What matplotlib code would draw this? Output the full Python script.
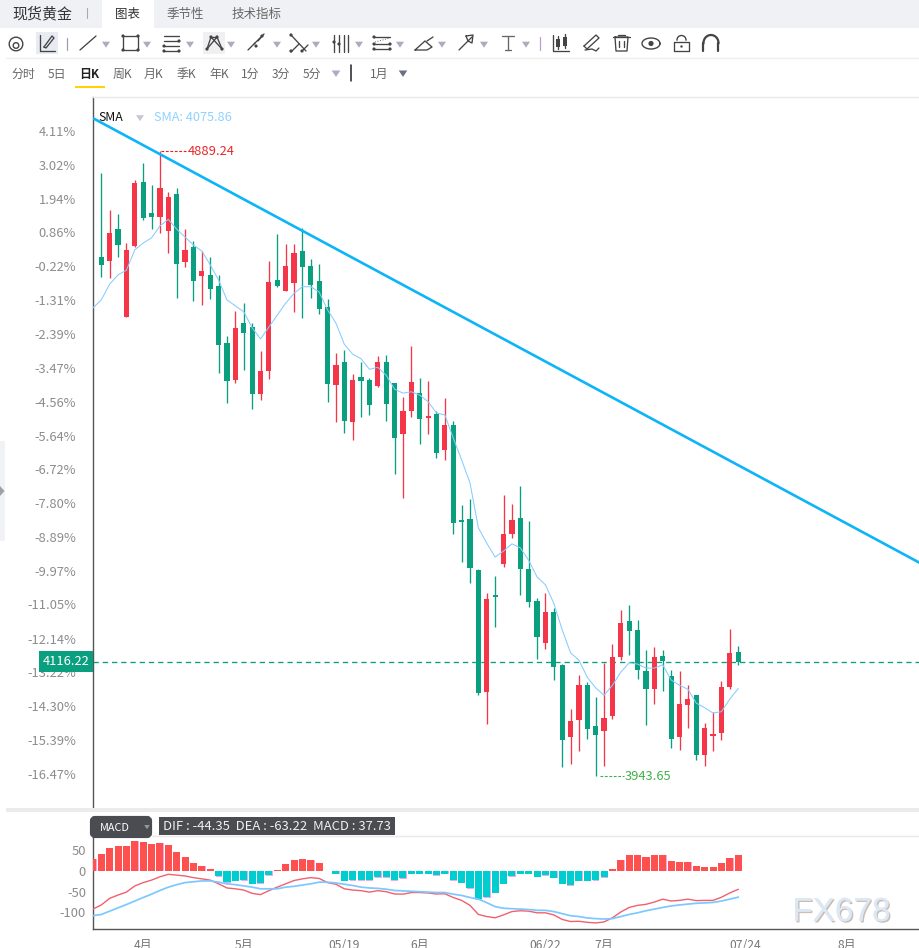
import matplotlib
matplotlib.use("Agg")
import matplotlib.pyplot as plt
import matplotlib.patheffects as pe
from matplotlib.patches import Rectangle, FancyBboxPatch, Polygon, Circle
import numpy as np

plt.rcParams['font.family'] = ['Noto Sans CJK SC', 'DejaVu Sans']

W, H = 920, 948
# ---------- data (index 1..77 = candles; bars / lines also have one earlier point) ----------
opens = [4729,4723,4771,4638,4746,4842,4796,4790,4768,4824,4721,4744,4700,4702,4685,4599,4543,4629,4623,4522,
         4557,4694,4678,4690,4738,4715,4693,4653,4535,4570,4479,4547,4543,4534,4570,4538,4461,4496,4523,4485,
         4491,4437,4475,4331,4333,4255,4071,4218,4265,4310,4334,4257,4209,4145,4192,4112,4003,4028,4081,4019,
         4012,4035,4124,4178,4165,4103,4075,4125,4095,4003,4051,4066,3976,4004,4009,4078,4131]
highs = [4856,4800,4794,4750,4846,4871,4838,4889.24,4827,4833,4771,4753,4738,4729,4702,4609,4647,4659,4629,4587,
         4723,4764,4749,4749,4773,4726,4718,4665,4584,4588,4552,4570,4546,4579,4581,4538,4517,4594,4546,4541,
         4496,4516,4481,4354,4363,4257,4221,4246,4369,4355,4383,4330,4213,4221,4198,4113,4045,4097,4086,4063,
         4115,4143,4195,4202,4180,4134,4139,4134,4104,4103,4081,4066,4024,4041,4087,4166,4140]
lows = [4699,4697,4729,4638,4744,4785,4771,4765,4735,4667,4714,4662,4656,4665,4554,4508,4538,4558,4499,4513,
        4544,4684,4678,4646,4637,4667,4643,4510,4479,4463,4452,4487,4490,4532,4481,4401,4364,4487,4446,4461,
        4425,4422,4310,4268,4236,4066,4022,4169,4260,4304,4218,4199,4121,4136,4089,3957,3962,3982,4000,3943.65,
        3959,4030,4119,4127,4091,4021,4053,4072,3986,3983,4016,3968,3959,3982,3998,4075,4112]
closes = [4717,4765,4747,4740,4841,4788,4790,4833,4820,4718,4740,4693,4708,4681,4596,4541,4622,4614,4522,4557,
          4691,4685,4715,4735,4714,4687,4650,4537,4566,4481,4543,4541,4505,4570,4507,4455,4496,4540,4484,4488,
          4432,4475,4327,4328,4258,4069,4212,4215,4310,4331,4257,4207,4154,4192,4109,3998,4027,4081,4015,4006,
          4031,4124,4175,4163,4104,4075,4124,4118,4000,4053,4060,3976,4016,4007,4078,4130,4116.22]
sma = [4652,4664,4688,4702,4709,4740,4750,4758,4776,4786,4771,4759,4747,4738,4717,4694,4664,4655,4646,4622,
       4605,4623,4641,4659,4674,4684,4684,4676,4649,4629,4597,4582,4575,4559,4562,4550,4529,4523,4525,4520,
       4510,4493,4490,4455,4422,4387,4319,4296,4275,4284,4295,4289,4270,4245,4233,4205,4165,4130,4119,4093,
       4077,4066,4081,4101,4115,4113,4107,4107,4112,4089,4081,4075,4054,4047,4039,4041,4060,4075.86]
macd = [29,41,56,60,60,72,70,65,68,63,46,34,19,12,5,-12,-27,-24,-22,-31,-29,-10,2,17,27,29,27,19,0.5,-7,
        -24,-22,-22,-22,-14.5,-14.5,-22,-17,-7,-7,-6.5,-10,-6.5,-22,-28,-41,-68,-63,-53,-31,-12,-6.5,-7,-14,-10,-16,-31,-34,-24,-24,
        -22,-14.5,5,27,39,39,34,39,39,24,22,22,12,10,10,19,31,37.73]
dif = [-92,-82,-66,-58,-51,-36,-28,-22,-14,-8,-10,-12,-16,-19,-22,-31,-41,-43,-46,-54,-57,-47.5,-39,-31,-23,-19,-16,-18,-28,-32,
       -43,-46,-47.5,-51,-47.5,-50,-55.5,-56,-52,-52,-53,-55.5,-55,-64,-71,-83,-105,-110,-113,-106,-98,-96,-97,-101,-101,-106,-117,-122,-121.5,-124,
       -125.5,-123,-113,-99,-88,-83,-80.5,-75,-68,-72.5,-71,-68,-71.5,-71,-71,-63.5,-53,-44.35]
dea = [-108,-105,-97,-89,-81,-72.5,-64,-56,-47,-39,-33,-28,-26,-24,-24,-27,-31,-33,-36,-39,-43,-43,-43,-39,-37,-34,-31,-27,-27,-29,
       -32,-35,-39,-41,-42,-44,-47,-48,-49,-50,-51,-52,-52,-56,-59,-64,-68,-76.5,-86,-90,-91,-92,-93,-95,-95,-98,-103,-108,-110,-113.5,
       -115,-116,-115,-110,-105,-101,-96,-92,-88,-84.5,-82,-80,-78,-77,-76,-72.5,-68,-63.22]
pct_ticks = [4.11,3.02,1.94,0.86,-0.22,-1.31,-2.39,-3.47,-4.56,-5.64,-6.72,-7.80,-8.89,-9.97,-11.05,-12.14,-13.22,-14.30,-15.39,-16.47]
base_price = 4725.4
last_price = 4116.22
trend_idx = [0.01, 98.7]
trend_price = [4939, 4266]
macd_ticks = [50, 0, -50, -100]
date_idx = [6, 18, 30, 39, 54, 61, 77.8, 90]
date_lbl = ['4月', '5月', '05/19', '6月', '06/22', '7月', '07/24', '8月']

GREEN, RED, SMAC = '#0a9f7e', '#f53649', '#86ccff'
TREND = '#0cb4f8'
GREY = '#8c8c8c'
FS = 8.7
FSN = 9.3

fig = plt.figure(figsize=(W/100, H/100), dpi=100, facecolor='white')

def rect(x0, y0, x1, y1):
    return [x0/W, 1-y1/H, (x1-x0)/W, (y1-y0)/H]

# ---------- main chart ----------
ax = fig.add_axes(rect(93, 97, 920, 807))
ax.set_xlim(0.01, 98.7)
ax.set_ylim(5117.8-1.513*807, 5117.8-1.513*97)
ax.patch.set_alpha(0)
idx = np.arange(1, 78)
o, h, l, c = map(np.array, (opens, highs, lows, closes))
cols = [GREEN if cc < oo else RED for oo, cc in zip(o, c)]
ax.vlines(idx, l, h, colors=cols, linewidth=0.95, zorder=3)
ax.bar(idx, np.maximum(np.abs(c-o), 2), bottom=np.minimum(o, c), width=0.62, color=cols, linewidth=0, zorder=3)
ax.plot(np.arange(0, 78), sma, color=SMAC, lw=0.75, zorder=4)
ax.plot(trend_idx, trend_price, color=TREND, lw=1.9, zorder=5, solid_capstyle='butt')
ax.axhline(last_price, color=GREEN, lw=0.95, ls=(0, (4, 3)), zorder=2)
for s in ('top', 'right', 'bottom'):
    ax.spines[s].set_visible(False)
ax.spines['left'].set_color('#555555')
ax.spines['left'].set_linewidth(1)
ax.set_xticks([])
ax.set_yticks([base_price*(1+p/100) for p in pct_ticks])
ax.set_yticklabels([f'{p:.2f}%' for p in pct_ticks], fontsize=FSN, color=GREY)
ax.tick_params(axis='y', length=0, pad=12.3)

# extremes
hi_i, lo_i = int(np.argmax(h)), int(np.argmin(l))
ax.plot([idx[hi_i]+0.1, idx[hi_i]+3.3], [h[hi_i]]*2, color='#f01c1c', lw=0.8, ls=(0, (2.5, 1.5)), zorder=6)
ax.text(idx[hi_i]+3.3, h[hi_i], f'{h[hi_i]:.2f}', color='#e8262a', fontsize=FSN, va='center', ha='left', zorder=6)
ax.plot([idx[lo_i]+0.5, idx[lo_i]+3.4], [l[lo_i]]*2, color='#3fb04a', lw=0.8, ls=(0, (2.5, 1.5)), zorder=6)
ax.text(idx[lo_i]+3.4, l[lo_i], f'{l[lo_i]:.2f}', color='#3fb04a', fontsize=FSN, va='center', ha='left', zorder=6)

# ---------- MACD panel ----------
m = fig.add_axes(rect(93, 836, 920, 929))
m.set_xlim(0.01, 98.7)
m.set_ylim(-(929-871)/0.414, (871-836)/0.414)
m.patch.set_alpha(0)
mx = np.arange(0, 78)
mv = np.array(macd)
# thin pink edge under every bar, as in the reference
m.bar(mx+0.04, np.where(mv > 0, mv, mv-1.3), width=0.82, color='#f6a6e6', linewidth=0, zorder=2)
m.bar(mx, mv, width=0.84, color=['#ff5050' if v > 0 else '#00cdd0' for v in mv], linewidth=0, zorder=3)
m.plot(mx, dif, color='#f2606e', lw=1.0, zorder=4)
m.plot(mx, dea, color='#7cc8ff', lw=1.25, zorder=4)
m.spines['top'].set_visible(False)
m.spines['right'].set_visible(False)
for s in ('left', 'bottom'):
    m.spines[s].set_color('#555555')
    m.spines[s].set_linewidth(1)
m.set_yticks(macd_ticks)
m.set_yticklabels([str(t) for t in macd_ticks], fontsize=FSN+0.1, color=GREY)
m.tick_params(axis='y', length=0, pad=5)
m.set_xticks(date_idx)
m.set_xticklabels(date_lbl, fontsize=FS, color='#777777')
m.tick_params(axis='x', length=0, pad=7)

# ---------- page chrome in pixel coordinates ----------
ui = fig.add_axes([0, 0, 1, 1], zorder=10)
ui.set_xlim(0, W); ui.set_ylim(H, 0); ui.axis('off'); ui.patch.set_alpha(0)

def box(x0, y0, x1, y1, col, z=1, **kw):
    ui.add_patch(Rectangle((x0, y0), x1-x0, y1-y0, facecolor=col, edgecolor='none', zorder=z, **kw))
def seg(xs, ys, col='#444444', lw=0.95, z=3, **kw):
    ui.plot(xs, ys, color=col, lw=lw, zorder=z, solid_capstyle='round', **kw)
def dot(x, y, r=1.6, col='#444444'):
    ui.add_patch(Circle((x, y), r, facecolor=col, edgecolor='none', zorder=4))
def tri(x, y, s=4.5, col='#a9adbd', z=4):
    ui.add_patch(Polygon([(x-s, y-s*0.7), (x+s, y-s*0.7), (x, y+s*0.8)], closed=True, facecolor=col, edgecolor='none', zorder=z))
def txt(x, y, s, col='#555555', fs=FS, ha='left', **kw):
    ui.text(x, y, s, color=col, fontsize=fs, ha=ha, va='center', zorder=6, **kw)

# tab bar
box(0, 0, W, 28, '#f0f1f5')
box(102, 0, 154, 28, 'white', 2)
txt(12, 13.5, '现货黄金', '#333333', 10.8)
seg([87, 87], [8, 18], '#aaaaaa', 0.8)
txt(115, 14.5, '图表', '#333333', 9)
txt(167, 14.5, '季节性', '#666666', 9)
txt(232, 14.5, '技术指标', '#666666', 9)
# rules
seg([6, W], [57.5, 57.5], '#efefef', 1)
seg([93, W], [96.7, 96.7], '#e9e9e9', 1)
box(6, 808, W, 812, '#ebebeb')
seg([152, W], [836, 836], '#e9e9e9', 1)

# toolbar
box(36, 32, 58, 54, '#e8ebf2', 1)
box(203, 32, 225, 54, '#f0f0f2', 1)
ui.add_patch(Circle((16, 44), 6.8, fill=False, ec='#444444', lw=1.0, zorder=3))
ui.add_patch(Circle((16, 45.5), 2.8, fill=False, ec='#444444', lw=1.0, zorder=3))
box(8, 47, 24, 53, 'white', 2)
seg([40, 40, 55], [35, 51, 51]); seg([44, 52, 54, 46, 44], [47, 36, 38, 48, 47])
seg([67.5, 67.5], [38, 50], '#9aa0b0', 0.9)
seg([80, 96], [50, 36])
for xc in (106, 147, 190, 231, 277, 316, 359, 400, 442, 484, 526):
    tri(xc, 44.5, 4)
seg([123, 138, 138, 123, 123], [36, 36, 50, 50, 36])
for a, b in ((123, 36), (138, 36), (123, 50), (138, 50)):
    dot(a, b)
seg([164, 179], [36, 36]); seg([164, 179], [41, 41]); seg([164, 179], [46, 46]); seg([164, 179], [51, 51])
dot(179, 41); dot(164, 46); dot(164, 51); dot(179, 51)
seg([207, 211, 222], [49, 37, 49]); seg([207, 217, 222], [49, 37, 49]); seg([211, 217], [37, 37])
for a, b in ((207, 49), (211, 37), (217, 37), (222, 49)):
    dot(a, b)
seg([248, 255], [50, 43]); seg([258, 264], [41, 34]); seg([254, 262], [44, 36]); dot(256, 46); dot(262, 36)
seg([291, 306], [35, 51]); seg([291, 299], [52, 44]); seg([302, 308], [51, 45]); dot(291, 35); dot(291, 51); dot(302, 51)
for xx, yd in ((334, 42), (339, 44), (344, None), (348, None)):
    seg([xx, xx], [35, 52], '#444444', 0.95)
    if yd: dot(xx, yd)
seg([374, 390], [37, 37]); seg([374, 390], [44, 44]); seg([374, 390], [49, 49]); seg([375, 390], [42, 38], '#666666', 0.7, ls=':')
dot(374, 37); dot(374, 44); dot(374, 49); dot(390, 44); dot(390, 49)
seg([415, 425, 432, 427, 415], [50, 41, 47, 50, 50]); seg([427, 433], [41, 37])
seg([459, 472], [50, 37]); seg([466, 473, 472, 468, 466], [36, 35, 43, 41, 36])
seg([502, 514], [36, 36], '#666666'); seg([508, 508], [36, 50], '#666666'); seg([505, 511], [50, 50], '#666666')
seg([540.5, 540.5], [37, 50], '#b79fd0', 0.9)
# candle icon
seg([553, 553, 569], [35, 51, 51]); box(556, 39, 560, 47, '#444444', 3); box(563, 37, 567, 46, '#444444', 3)
seg([558, 558], [36, 49]); seg([565, 565], [34, 48])
seg([584, 596, 599, 587, 584], [46, 35, 38, 49, 46]); seg([585, 592, 596, 599], [50, 49, 51, 48])
seg([613, 630], [37, 37]); seg([615, 616, 627, 628, 615], [37, 51, 51, 37, 37]); seg([619, 619], [41, 47]); seg([624, 624], [41, 47]); seg([618, 625], [35, 35])
ell = np.linspace(0, 2*np.pi, 40)
ui.plot(651+9*np.cos(ell), 43.5+5.5*np.sin(ell), color='#444444', lw=1.0, zorder=3); dot(651, 43.5, 2.6)
box(674, 42, 689, 51, 'white', 2); seg([674, 689, 689, 674, 674], [42, 42, 51, 51, 42]); dot(681.5, 46.5, 1.2)
th = np.linspace(np.pi, 2*np.pi, 20)
ui.plot(681.5+4.5*np.cos(th), 40+4.5*np.sin(th), color='#444444', lw=1.0, zorder=3)
ui.plot(711+7.5*np.cos(th), 43+8*np.sin(th), color='#444444', lw=1.6, zorder=3)
seg([703.5, 703.5], [43, 51], '#444444', 1.6); seg([718.5, 718.5], [43, 51], '#444444', 1.6)

# interval row
for xx, s in ((12, '分时'), (48, '5日'), (113, '周K'), (144, '月K'), (177, '季K'), (209, '年K'), (241, '1分'), (272, '3分'), (303, '5分'), (370, '1月')):
    txt(xx, 74.5, s, '#666666', 8.6)
txt(79, 74.5, '日K', '#222222', 8.6, fontweight='bold')
box(75, 86, 105, 88, '#ffd400', 3)
tri(336, 73.5, 4.3, '#a9adc4')
tri(403, 73.5, 4.3, '#6c7084')
seg([351.5, 351.5], [65, 81], '#222222', 1.1)

# left handle
box(0, 441, 5, 541, '#f1f2f6')
ui.add_patch(Polygon([(0, 486), (4.5, 491), (0, 496)], closed=True, facecolor='#a0a0a8', edgecolor='none', zorder=3))

# legend line
txt(98, 117.5, 'SMA', '#111111', 8.9)
tri(140, 118, 4, '#c4c9d6')
txt(154, 117.5, f'SMA: {sma[-1]:.2f}', '#90d2ff', 9.2)

# last price flag
box(39, 651, 93, 672, GREEN, 5)
txt(66, 661.5, f'{last_price:.2f}', 'white', 9.3, ha='center')

# MACD header
ui.add_patch(FancyBboxPatch((92, 818), 58, 18, boxstyle='round,pad=0,rounding_size=3', facecolor='#4a4c52', edgecolor='#4a4c52', lw=3, zorder=5))
txt(100, 828, 'MACD', 'white', 7.8)
tri(147, 827, 2.8, '#999999', 6)
box(159, 817, 395, 835, '#4a4c52', 5)
txt(163, 827, 'DIF : -44.35  DEA : -63.22  MACD : 37.73', '#f0f0f0', 9.4)

# watermark
ui.text(841.5, 912.5, 'FX678', color='#dce8f5', fontsize=24, family='Liberation Sans',
        ha='center', va='center', zorder=6,
        path_effects=[pe.withSimplePatchShadow(offset=(1, -1), shadow_rgbFace='#b9a898', alpha=0.75), pe.Normal()])

fig.savefig('out.png', dpi=100, facecolor='white')
